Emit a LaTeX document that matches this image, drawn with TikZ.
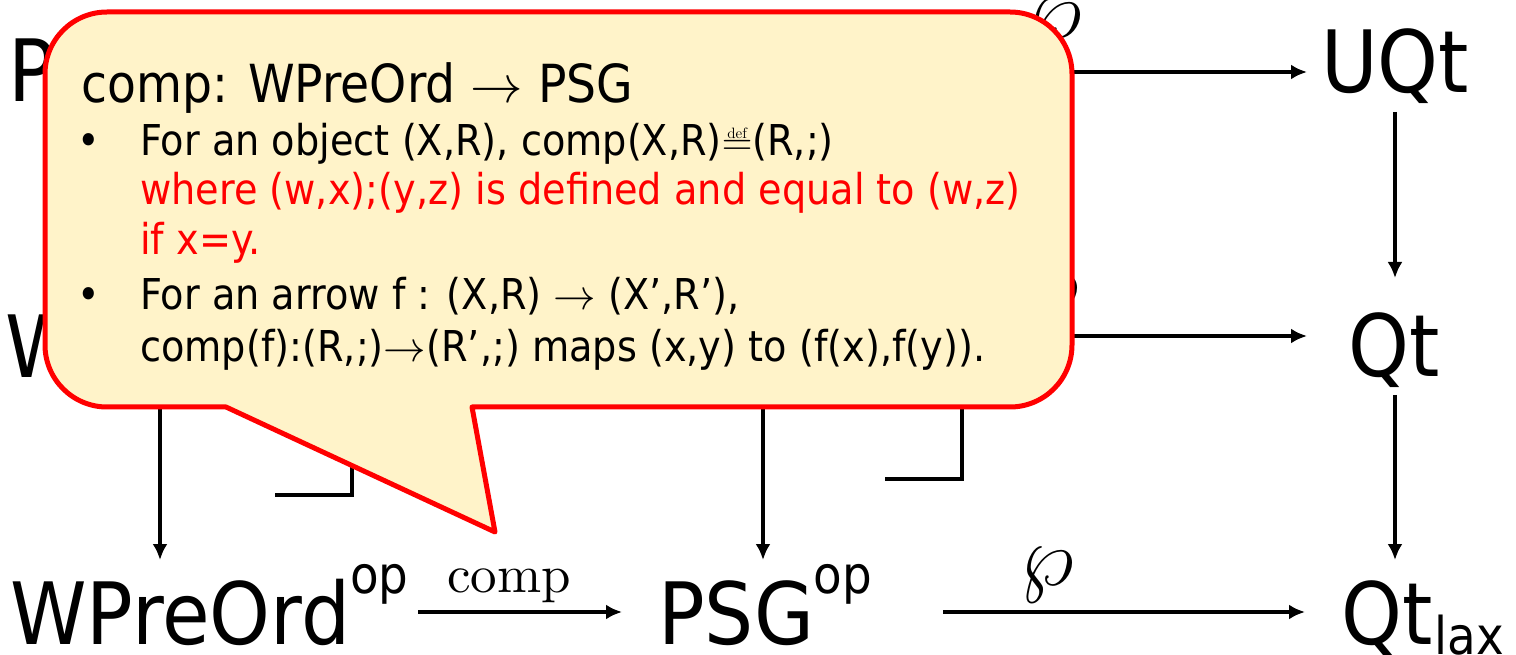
\RequirePackage{fix-cm}
\documentclass[tikz,border=0pt]{standalone}
\usepackage{fontspec}
\setmainfont[FakeStretch=0.9]{DejaVu Sans}
\newfontfamily\lmr{lmroman10-regular.otf}
\usetikzlibrary{arrows.meta}
\definecolor{calloutfill}{HTML}{FFF3C9}
\newcommand\objfont{\fontsize{86}{86}\selectfont}
\newcommand\supfont{\fontsize{52}{52}\selectfont}
\newcommand\bodyfont{\fontsize{42.5}{42.5}\selectfont}
\newcommand\titlefont{\fontsize{52.5}{52.5}\selectfont}
\newcommand\mydefeq{\ensuremath{\mathrel{\stackrel{\mbox{\lmr\fontsize{15}{15}\selectfont def}}{=}}}}
\newcommand\myop{\raisebox{51pt}{\supfont op}}
\tikzset{
  obj/.style={inner sep=0pt, anchor=base west, font=\objfont},
  arr/.style={line width=3.5pt, -{Latex[length=16pt,width=15pt]}},
  cornerline/.style={line width=3.5pt},
  callout/.style={draw=red, line width=5pt, fill=calloutfill, line join=round},
  ctext/.style={inner sep=0pt, anchor=base west, font=\bodyfont},
  wplbl/.style={inner sep=0pt, font=\fontsize{86}{86}\selectfont},
}
\begin{document}
\begin{tikzpicture}[x=1pt,y=1pt]
\useasboundingbox (0,0) rectangle (1516,654);
% objects
\node[obj] (P) at (8,552) {P};
\node[obj] (W) at (5,276) {W};
\node[obj] (UQt) at (1321,561) {UQt};
\node[obj] (Qt) at (1348,277) {Qt};
\node[obj] (WPO) at (10,10) {WPreOrd\myop};
\node[obj] (PSG) at (658,10) {PSG\myop};
\node[obj] (Qtl) at (1341,10) {Qt\hspace{2pt}\raisebox{-10pt}{\supfont lax}};
% arrow ends
\coordinate (a1s) at (900,582); \coordinate (a1e) at (1307,582);
\coordinate (a2s) at (900,318); \coordinate (a2e) at (1307,318);
\coordinate (v1s) at (1395,542); \coordinate (v1e) at (1395,376);
\coordinate (v2s) at (1395,259); \coordinate (v2e) at (1395,94);
\coordinate (v3s) at (160,300); \coordinate (v3e) at (160,94);
\coordinate (v4s) at (763,300); \coordinate (v4e) at (763,94);
\coordinate (b1s) at (418,42); \coordinate (b1e) at (622,42);
\coordinate (b2s) at (943,42); \coordinate (b2e) at (1305,42);
\draw[arr] (a1s) -- (a1e);
\draw[arr] (a2s) -- (a2e);
\draw[arr] (v1s) -- (v1e);
\draw[arr] (v2s) -- (v2e);
\draw[arr] (v3s) -- (v3e);
\draw[arr] (v4s) -- (v4e);
\draw[arr] (b1s) -- (b1e);
\draw[arr] (b2s) -- (b2e);
% labels
\node[inner sep=0pt, anchor=base west, font=\lmr\fontsize{53}{53}\selectfont] (lcomp) at (447,62) {comp};
\node[wplbl] (wp1) at (1047,79) {$\wp$};
\node[wplbl] (wp2) at (1055,627) {$\wp$};
\node[wplbl] (wp3) at (1052,354) {$\wp$};
% pullback corners
\coordinate (c1a) at (275,159); \coordinate (c1b) at (352,159); \coordinate (c1c) at (352,230);
\coordinate (c2a) at (885,175); \coordinate (c2b) at (962,175); \coordinate (c2c) at (962,262);
\draw[cornerline] (c1a) -- (c1b) -- (c1c);
\draw[cornerline] (c2a) -- (c2b) -- (c2c);
% callout
\draw[callout] (226,247) -- (107,247) arc[start angle=270,end angle=180,radius=62]
  -- (45,580) arc[start angle=180,end angle=90,radius=62]
  -- (1010,642) arc[start angle=90,end angle=0,radius=62]
  -- (1072,309) arc[start angle=0,end angle=-90,radius=62]
  -- (472,247) -- (495,122) -- cycle;
\node[inner sep=0pt, anchor=base west, font=\titlefont] (t0) at (81,551) {comp: WPreOrd $\rightarrow$ PSG};
\node[ctext] (b1) at (77,498) {•};
\node[ctext] (t1) at (140,498) {For an object (X,R), comp(X,R)\mydefeq(R,;)};
\node[ctext, text=red] (t2) at (140,449) {where (w,x);(y,z) is defined and equal to (w,z)};
\node[ctext, text=red] (t3) at (140,399) {if x=y.};
\node[ctext] (b2) at (77,344) {•};
\node[ctext] (t4) at (140,344) {For an arrow f : (X,R) $\rightarrow$ (X’,R’),};
\node[ctext] (t5) at (140,292) {comp(f):(R,;)$\rightarrow$(R’,;) maps (x,y) to (f(x),f(y)).};
\end{tikzpicture}
\end{document}
